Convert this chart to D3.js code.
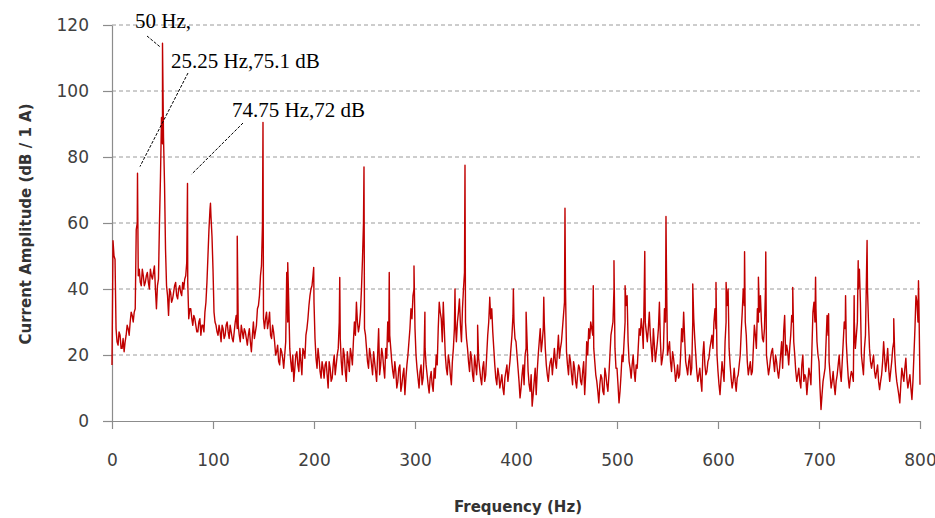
<!DOCTYPE html>
<html>
<head>
<meta charset="utf-8">
<script src="https://cdn.jsdelivr.net/npm/d3@7"></script>
<style>
  body { margin: 0; background: #fff; }
  svg { display: block; }
</style>
</head>
<body>
<div id="chart"></div>
<script>
// spectrum noise floor
// floorEvenDb: 0, 2, 4 ... 800 Hz
const floorEvenDb = [
  17, 50, 28, 23, 26, 22, 21, 26, 28, 30,
  32, 33, 58, 44, 42, 46, 41, 44, 42, 46,
  43, 47, 34, 43, 74, 84, 72, 41, 32, 39,
  37, 41, 38, 40, 39, 42, 43, 48, 31, 34,
  29, 31, 27, 30, 26, 29, 33, 42, 58, 62,
  46, 30, 27, 29, 24, 28, 26, 30, 25, 27,
  24, 30, 28, 26, 29, 25, 27, 23, 28, 21,
  30, 27, 34, 38, 47, 31, 31, 28, 33, 25,
  27, 20, 23, 17, 21, 16, 24, 30, 22, 15,
  12, 20, 17, 22, 14, 21, 26, 31, 38, 41,
  36, 19, 22, 15, 18, 13, 18, 10, 16, 13,
  20, 17, 22, 25, 14, 20, 12, 18, 22, 17,
  30, 36, 27, 33, 49, 28, 22, 16, 20, 14,
  18, 12, 28, 17, 20, 13, 19, 24, 22, 15,
  18, 10, 16, 9, 14, 8, 17, 24, 34, 38,
  28, 16, 10, 17, 13, 22, 14, 8.5, 15, 9,
  13, 17, 36, 31, 36, 20, 14, 18, 11, 22,
  30, 30, 37, 24, 40, 30, 22, 15, 19, 12,
  17, 20, 16, 11, 18, 14, 26, 37, 34, 22,
  13, 16, 10, 14, 8, 15, 12, 18, 26, 30,
  24, 16, 7, 14, 11, 22, 15, 9, 4.5, 12,
  8, 20, 28, 24, 30, 17, 12, 18, 14, 22,
  16, 26, 22, 28, 36, 21, 14, 18, 11, 16,
  10, 17, 12, 15, 8, 24, 28, 30, 26, 18,
  12, 5.5, 14, 9, 16, 11, 14, 26, 30, 22,
  16, 5.5, 14, 18, 30, 38, 18, 13, 20, 12,
  16, 28, 31, 22, 30, 24, 33, 22, 28, 18,
  24, 36, 17, 22, 30, 20, 24, 15, 19, 12,
  17, 14, 28, 33, 18, 14, 20, 16, 31, 20,
  12, 16, 9, 24, 14, 18, 22, 26, 30, 28,
  15, 8, 18, 12, 30, 40, 17, 10, 16, 9,
  14, 20, 33, 35, 26, 14, 18, 15, 29, 22,
  30, 38, 25, 28, 20, 14, 19, 22, 15, 18,
  13, 20, 16, 32, 23, 17, 26, 30, 20, 12,
  16, 10, 20, 14, 8, 16, 11, 33, 30, 24,
  18, 3.5, 12, 16, 32, 18, 10, 15, 8, 14,
  20, 12, 24, 28, 18, 10, 15, 12, 22, 30,
  46, 20, 14, 26, 40, 22, 16, 20, 13, 17,
  9.5, 14, 24, 15, 22, 12, 18, 24, 15, 10,
  5.5, 16, 12, 19, 10, 14, 6.5, 20, 38, 30,
  11
];
// floorOddDb: 1, 3, 5 ... 799 Hz
const floorOddDb = [
  54.6, 49, 24, 27, 22, 25, 24, 29, 26, 33,
  30, 34, 60, 46, 41, 44, 42, 45, 40, 44,
  45, 40, 41, 60, 92, 86, 52, 38, 40, 36,
  39, 42, 37, 41, 38, 40, 44, 42, 34, 31,
  32, 29, 27, 31, 29, 27, 36, 50, 64, 56,
  33, 29, 26, 27, 29, 25, 29, 27, 29, 25,
  27, 32, 29, 24, 27, 28, 25, 26, 24, 26,
  25, 29, 35, 44, 60, 28, 33, 30, 26, 29,
  24, 21, 18, 22, 19, 20, 45, 36, 18, 20,
  16, 21, 15, 18, 22, 19, 28, 35, 40, 44,
  25, 16, 19, 13, 16, 17, 14, 18, 12, 17,
  14, 20, 30, 18, 22, 15, 21, 15, 20, 24,
  26, 30, 29, 40, 60, 26, 18, 22, 17, 21,
  15, 20, 14, 22, 16, 22, 30, 26, 18, 13,
  15, 12, 17, 11, 16, 13, 20, 28, 31, 40,
  20, 13, 15, 11, 20, 17, 11, 13, 11, 16,
  20, 28, 33, 24, 28, 16, 20, 14, 18, 28,
  24, 33, 29, 34, 45, 25, 18, 21, 14, 20,
  14, 19, 13, 16, 12, 20, 30, 31, 27, 17,
  11, 14, 12, 10, 13, 17, 15, 22, 32, 25,
  20, 12, 10, 17, 20, 24, 11, 14, 8, 16,
  15, 24, 21, 28, 22, 14, 16, 19, 18, 18,
  21, 19, 24, 32, 40, 17, 20, 14, 18, 12,
  14, 16, 11, 18, 14, 20, 25, 28, 22, 14,
  9, 11, 13, 8, 14, 9, 20, 28, 40, 16,
  11, 9, 20, 24, 35, 24, 16, 17, 15, 17,
  22, 26, 28, 40, 27, 28, 26, 18, 23, 21,
  28, 24, 19, 34, 45, 22, 18, 21, 16, 14,
  13, 20, 24, 25, 16, 18, 14, 30, 25, 15,
  14, 12, 20, 17, 15, 19, 24, 22, 34, 20,
  11, 13, 15, 24, 35, 22, 13, 12, 12, 13,
  17, 27, 40, 30, 18, 16, 14, 22, 26, 34,
  33, 30, 24, 40, 17, 16, 21, 18, 20, 15,
  16, 24, 27, 20, 21, 22, 32, 24, 15, 14,
  12, 17, 12, 13, 12, 14, 22, 36, 34, 20,
  10, 8, 14, 24, 26, 14, 12, 11, 12, 17,
  15, 18, 30, 24, 13, 13, 14, 30, 26, 40,
  36, 17, 22, 44, 30, 18, 18, 15, 15, 12,
  12, 18, 19, 18, 16, 15, 22, 20, 12, 8,
  11, 14, 16, 13, 12, 10, 12, 28, 36, 34
];

// narrow spectral lines sitting between the samples above
const peakHz = [25.25, 50, 74.75, 97.5, 124, 149.5, 174, 199.7, 225.5,
  249.5, 274.5, 299, 309.8, 339.6, 349.5, 362, 374, 397.4, 410,
  427.5, 448.5, 476.5, 497, 508, 527.5, 548.5, 575, 598, 608,
  626.3, 640, 647.3, 674, 696.6, 709.5, 726.3, 734.8, 738.8, 747.6,
  774, 798.5];
const peakDb = [75.1, 114.5, 72, 66, 56, 90.5, 48, 46.5, 43.5,
  77, 45, 47, 33, 40, 77.5, 29, 37.5, 40, 33,
  37.5, 64.5, 41, 48.6, 41, 51.4, 62, 41.5, 42, 42,
  51.3, 43.6, 51.2, 40.5, 43.6, 32.5, 38, 38, 48.6, 54.7,
  31, 42.5];

const xTicks = [0, 100, 200, 300, 400, 500, 600, 700, 800];
const yTicks = [0, 20, 40, 60, 80, 100, 120];

const noteText = ["50 Hz,", "25.25 Hz,75.1 dB", "74.75 Hz,72 dB"];
const noteHz = [47.5, 27.7, 78.9];
const noteDb = [113.4, 77.1, 74.8];

const width = 935, height = 518;
const plotLeft = 112, plotRight = 920, plotTop = 25, plotBottom = 421;

const points = floorEvenDb.map((v, i) => ({f: i * 2, v: v}))
  .concat(floorOddDb.map((v, i) => ({f: i * 2 + 1, v: v})))
  .concat(peakHz.map((f, i) => ({f: f, v: peakDb[i]})))
  .sort((a, b) => a.f - b.f);

const x = d3.scaleLinear().domain([0, 800]).range([plotLeft, plotRight]);
const y = d3.scaleLinear().domain([0, 120]).range([plotBottom, plotTop]);

const svg = d3.select("#chart").append("svg")
  .attr("width", width)
  .attr("height", height);

// dashed grid
svg.append("g")
  .selectAll("line")
  .data(yTicks.filter(t => t > 0))
  .enter().append("line")
  .attr("x1", plotLeft)
  .attr("x2", plotRight)
  .attr("y1", d => y(d))
  .attr("y2", d => y(d))
  .style("stroke", "#9a9a9a")
  .style("stroke-width", 1)
  .style("stroke-dasharray", "4,3");

const yAxis = svg.append("g")
  .attr("transform", "translate(" + plotLeft + ",0)")
  .call(d3.axisLeft(y).tickValues(yTicks).tickSize(9).tickSizeOuter(0).tickPadding(14));

const xAxis = svg.append("g")
  .attr("transform", "translate(0," + plotBottom + ")")
  .call(d3.axisBottom(x).tickValues(xTicks).tickSize(8).tickSizeOuter(0).tickPadding(25));

[yAxis, xAxis].forEach(function(g) {
  g.select(".domain").style("stroke", "#8c8c8c").style("stroke-width", 1.2);
  g.selectAll(".tick line").style("stroke", "#8c8c8c").style("stroke-width", 1.2);
  g.selectAll(".tick text")
    .style("font-family", "DejaVu Sans, Verdana, sans-serif")
    .style("font-size", "17px")
    .style("fill", "#404040");
});

// spectrum
svg.append("path")
  .datum(points)
  .attr("d", d3.line().x(d => x(d.f)).y(d => y(d.v)))
  .style("fill", "none")
  .style("stroke", "#c00000")
  .style("stroke-width", 1.4)
  .style("stroke-linejoin", "round");

// axis titles
svg.append("text")
  .attr("transform", "translate(31,224) rotate(-90)")
  .attr("text-anchor", "middle")
  .style("font-family", "DejaVu Sans, Verdana, sans-serif")
  .style("font-size", "15px")
  .style("font-weight", "bold")
  .style("fill", "#333")
  .text("Current Amplitude (dB / 1 A)");

svg.append("text")
  .attr("x", 518)
  .attr("y", 512)
  .attr("text-anchor", "middle")
  .style("font-family", "DejaVu Sans, Verdana, sans-serif")
  .style("font-size", "15px")
  .style("font-weight", "bold")
  .style("fill", "#333")
  .text("Frequency (Hz)");

// annotations: label position and where its leader starts
const notePos = [
  {tx: 135, ty: 28, lx: 147, ly: 36},
  {tx: 171, ty: 68, lx: 188, ly: 73},
  {tx: 232, ty: 117, lx: 243, ly: 123}
];

noteText.forEach(function(t, i) {
  const p = notePos[i];
  svg.append("line")
    .attr("x1", p.lx)
    .attr("y1", p.ly)
    .attr("x2", x(noteHz[i]))
    .attr("y2", y(noteDb[i]))
    .style("stroke", "#000")
    .style("stroke-width", 1)
    .style("stroke-dasharray", "3,1.5");
  svg.append("text")
    .attr("x", p.tx)
    .attr("y", p.ty)
    .style("font-family", "Liberation Serif, Times New Roman, serif")
    .style("font-size", "21px")
    .style("fill", "#000")
    .text(t);
});
</script>
</body>
</html>
